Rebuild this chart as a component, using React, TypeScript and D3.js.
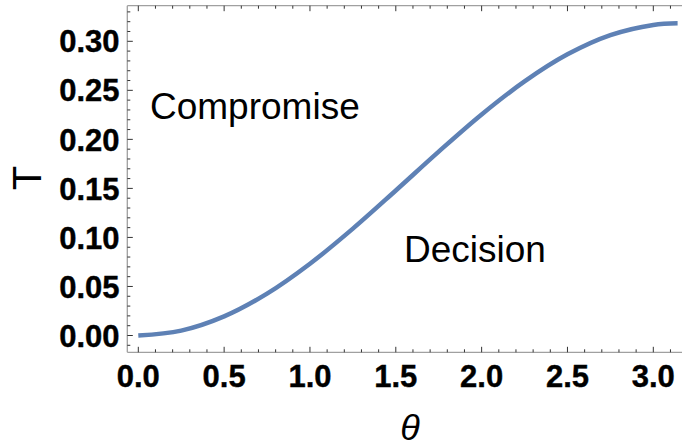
import React from "react";
import * as d3 from "d3";

// curve: T against theta
const thetaValues = [0, 0.25, 0.5, 0.75, 1.0, 1.25, 1.5, 1.75, 2.0, 2.25, 2.5, 2.75, 3.0, 3.1416];
const tValues = [0, 0.005, 0.0195, 0.0427, 0.0732, 0.109, 0.1479, 0.1875, 0.2254, 0.2591, 0.2867, 0.3063, 0.3167, 0.3183];

const xMajor = [0, 0.5, 1.0, 1.5, 2.0, 2.5, 3.0];
const yMajor = [0, 0.05, 0.1, 0.15, 0.2, 0.25, 0.3];
const xMinor = d3.range(0, 33).map((i) => i / 10);
const yMinor = d3.range(-1, 34).map((i) => i / 100);

const W = 682;
const H = 447;

export default function App() {
  // frame: left 127, top 5.7, bottom 352.3
  const x = d3.scaleLinear().domain([0, 3]).range([138.3, 653.3]);
  const y = d3.scaleLinear().domain([0, 0.3]).range([335.5, 41.3]);
  const left = 127.3;
  const top = 5.7;
  const bottom = 352.3;
  const right = W;

  const line = d3
    .line<number>()
    .x((d, i) => x(thetaValues[i]))
    .y((d) => y(d))
    .curve(d3.curveCatmullRom.alpha(0.5));

  const font = "'Liberation Sans', Arial, sans-serif";
  const isMajorX = (v: number) => xMajor.some((m) => Math.abs(m - v) < 1e-6);
  const isMajorY = (v: number) => yMajor.some((m) => Math.abs(m - v) < 1e-6);

  return (
    <svg width={W} height={H} style={{ position: "absolute", left: 0, top: 0, background: "#fff" }}>
      {/* frame */}
      <g stroke="#a0a0a0" strokeWidth={1.3} fill="none">
        <line x1={left} x2={left} y1={top} y2={bottom} />
        <line x1={left} x2={right} y1={bottom} y2={bottom} />
        <line x1={left} x2={right} y1={top} y2={top} />
      </g>
      {/* ticks */}
      <g stroke="#333" strokeWidth={1}>
        {xMinor.map((v) => {
          const len = isMajorX(v) ? 5.5 : 3;
          return (
            <g key={"x" + v}>
              <line x1={x(v)} x2={x(v)} y1={bottom} y2={bottom - len} />
              <line x1={x(v)} x2={x(v)} y1={top} y2={top + len} />
            </g>
          );
        })}
        {yMinor.map((v) => {
          const len = isMajorY(v) ? 5.5 : 3;
          return <line key={"y" + v} x1={left} x2={left + len} y1={y(v)} y2={y(v)} />;
        })}
      </g>
      {/* tick labels */}
      <g fontFamily={font} fontWeight="bold" fontSize={31} fill="#000" stroke="#000" strokeWidth={0.4}>
        {yMajor.map((v) => (
          <text key={"yl" + v} x={119.5} y={y(v)} dy="0.36em" textAnchor="end">
            {v.toFixed(2)}
          </text>
        ))}
        {xMajor.map((v) => (
          <text key={"xl" + v} x={x(v)} y={387} textAnchor="middle">
            {v.toFixed(1)}
          </text>
        ))}
      </g>
      {/* curve */}
      <path d={line(tValues) || ""} fill="none" stroke="#5e81b5" strokeWidth={4.5} />
      {/* labels */}
      <text x={150} y={119} fontFamily={font} fontSize={37}>
        Compromise
      </text>
      <text x={404} y={261.5} fontFamily={font} fontSize={37}>
        Decision
      </text>
      <text
        transform={`translate(40.5,178) rotate(-90)`}
        textAnchor="middle"
        fontFamily={font}
        fontSize={40}
      >
        T
      </text>
      <text x={410} y={440} textAnchor="middle" fontFamily={font} fontStyle="italic" fontSize={36}>
        θ
      </text>
    </svg>
  );
}
